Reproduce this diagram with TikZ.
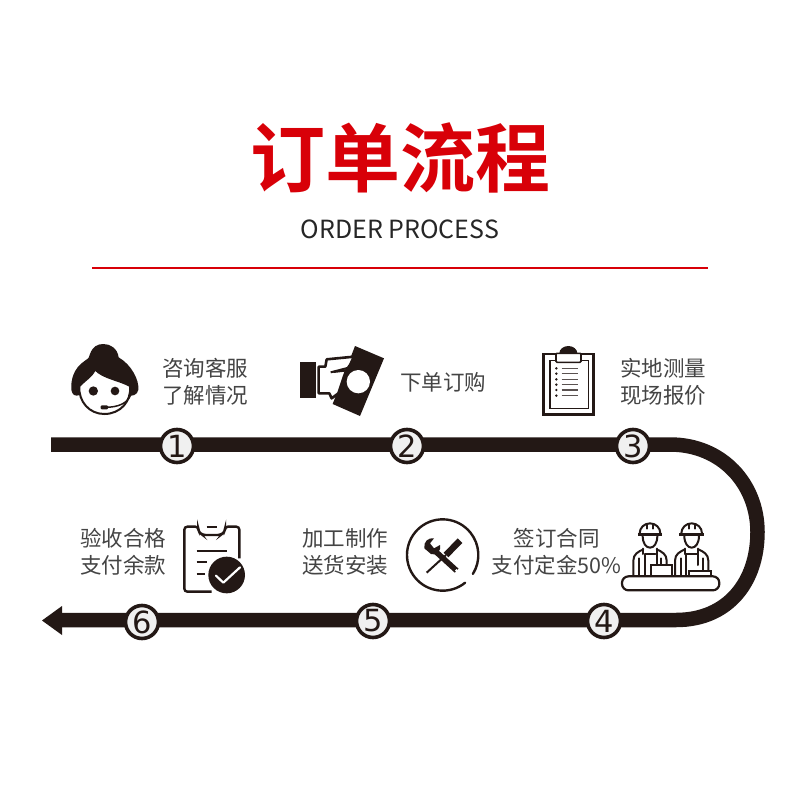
\documentclass[tikz,border=0pt]{standalone}
\usepackage{fontspec}
\newfontfamily\cjk{Noto Sans CJK SC}[BoldFont={Noto Sans CJK SC Bold}]
\newfontfamily\numfont{DejaVu Sans}
\definecolor{ink}{HTML}{231815}
\definecolor{txt}{HTML}{444444}
\definecolor{titlered}{HTML}{D80008}
\tikzset{
  track/.style={draw=ink,line width=14.5pt},
  stepnum/.style={circle,draw=ink,line width=3.6pt,fill=black!6,minimum size=33pt,inner sep=0pt,text=ink,font=\numfont\fontsize{30.5}{30.5}\selectfont},
  caption/.style={font=\cjk\fontsize{21.5}{27}\selectfont,text=txt,align=left,inner sep=0pt},
  icon/.style={draw=ink,line width=2pt,line join=round,line cap=round},
  iconfill/.style={fill=ink,draw=none}
}
\newcommand{\workerfig}{%
  % helmet
  \fill[ink] (-37,107) -- (37,107) -- (37,100) -- (-37,100) -- cycle;
  \draw[icon] (-31,100) arc (180:360:31 and 30);
  \draw[icon] (-9,72) -- (-9,86);
  \draw[icon] (9,72) -- (9,86);
  % head
  \draw[icon] (-22,107) .. controls (-22,130) and (-12,143) .. (0,143) .. controls (12,143) and (22,130) .. (22,107);
  % body
  \draw[icon] (-50,226) -- (-50,182) .. controls (-50,162) and (-35,155) .. (-20,148);
  \draw[icon] (50,226) -- (50,182) .. controls (50,162) and (35,155) .. (20,148);
  \draw[icon] (-33,226) -- (-33,175);
  \draw[icon] (-16,226) -- (-16,162) -- (16,162);
  \draw[icon] (-20,146) -- (-20,162);
  \draw[icon] (20,146) -- (20,162) -- (20,195);
  \draw[icon] (33,226) -- (33,175);
}
\begin{document}
\begin{tikzpicture}[x=1pt,y=-1pt]
\useasboundingbox[fill=white] (0,0) rectangle (800,800);

% heading
\node[font=\cjk\bfseries\fontsize{75}{76}\selectfont,text=titlered,inner sep=0pt] (title) at (400,158) {订单流程};
\node[font=\cjk\fontsize{25}{25}\selectfont,text=black!85,inner sep=0pt] (subtitle) at (400,229) {ORDER PROCESS};
\coordinate (ruleL) at (92,268);
\coordinate (ruleR) at (708,268);
\draw[draw=titlered,line width=2.8pt] (ruleL) -- (ruleR);

% track
\coordinate (trackstart) at (51,444.5);
\coordinate (bendtop) at (670,444.5);
\coordinate (bendright) at (757.5,532);
\coordinate (bendbot) at (676,620);
\coordinate (trackend) at (60,620);
\coordinate (tip) at (42,620.5);
\draw[track] (trackstart) -- (bendtop)
  .. controls (722,444.5) and (757.5,484) .. (bendright)
  .. controls (757.5,582) and (728,620) .. (bendbot) -- (trackend);
\fill[ink] (tip) -- (62,606) -- (62,635) -- cycle;

% steps
\node[stepnum] (s1) at (177,446) {1};
\node[stepnum] (s2) at (407,446) {2};
\node[stepnum] (s3) at (633,446) {3};
\node[stepnum] (s4) at (604,621) {4};
\node[stepnum] (s5) at (373,621) {5};
\node[stepnum] (s6) at (142,622) {6};

% captions
\node[caption,anchor=west] (c1) at (162,381.5) {咨询客服\\了解情况};
\node[caption,anchor=west] (c2) at (400,382) {下单订购};
\node[caption,anchor=west] (c3) at (620,381.5) {实地测量\\现场报价};
\node[caption,anchor=west] (c6) at (80,551.5) {验收合格\\支付余款};
\node[caption,anchor=west] (c5) at (302,551.5) {加工制作\\送货安装};
\node[caption,align=center,anchor=center] (c4) at (556.5,552) {签订合同\\支付定金50\%};

% icon 1: agent
\begin{scope}[shift={(40,330)},scale=1/3]
  \fill[ink] (94,180) .. controls (92,150) and (100,115) .. (135,92)
    .. controls (148,84) and (148,80) .. (150,72)
    .. controls (158,50) and (172,42) .. (190,42)
    .. controls (212,42) and (232,55) .. (236,82)
    .. controls (275,105) and (298,150) .. (295,180)
    .. controls (292,195) and (275,200) .. (268,195) -- (120,195)
    .. controls (105,200) and (97,195) .. (94,180) -- cycle;
  \filldraw[fill=white,draw=ink,line width=2pt] (118,168)
    .. controls (135,150) and (155,140) .. (165,118)
    .. controls (190,145) and (240,150) .. (270,168)
    .. controls (275,215) and (240,252) .. (193,252)
    .. controls (148,252) and (115,215) .. (118,168) -- cycle;
  \fill[ink] (160,183) circle (14);
  \fill[ink] (225,183) circle (13);
  \draw[ink,line width=1.5pt] (272,195) .. controls (262,220) and (235,232) .. (195,232);
  \fill[ink,rounded corners=1pt] (182,226) rectangle (204,238);
\end{scope}

% icon 2: hand and note
\begin{scope}[shift={(290,330)},scale=1/3]
  \fill[ink] (30,95) rectangle (78,205);
  \fill[ink] (195,48) -- (282,85) -- (210,258) -- (128,222) -- cycle;
  \filldraw[fill=white,draw=ink,line width=2.6pt,line join=round] (86,110) -- (106,110) -- (110,88) -- (192,80) -- (180,105)
    -- (168,122) -- (145,190) -- (125,205) -- (118,190) -- (86,190) -- cycle;
  \fill[white] (205,155) circle (35);
  \draw[ink,line width=2pt] (122,127) -- (195,108);
  \draw[ink,line width=2pt] (130,126) -- (165,122);
\end{scope}

% icon 3: clipboard
\begin{scope}[shift={(500,330)},scale=1/3]
  \draw[draw=ink,line width=2.6pt] (130,72) rectangle (281,253);
  \draw[draw=ink,line width=1.6pt] (150,92) rectangle (265,235);
  \fill[ink] (178,70) arc (180:360:27 and 22) -- cycle;
  \filldraw[fill=white,draw=ink,line width=1.6pt,rounded corners=1pt] (168,70) rectangle (243,97);
  \foreach \yy in {115,131,148,164,180,197}{
    \fill[ink] (169,\yy) circle (4);
    \draw[draw=ink!75,line width=1.5pt] (185,\yy) -- (235,\yy);
  }
\end{scope}

% icon 4: workers
\begin{scope}[shift={(480,500)},scale=1/3]
  \begin{scope}[shift={(510,0)}]\workerfig\end{scope}
  \begin{scope}[shift={(635,0)}]\workerfig\end{scope}
  \filldraw[fill=white,draw=ink,line width=2pt] (512,228) -- (512,196) -- (575,196) -- (575,228) -- cycle;
  \filldraw[fill=white,draw=ink,line width=2pt] (628,228) -- (628,212) -- (692,212) -- (692,228) -- cycle;
  \filldraw[fill=white,draw=ink,line width=2.2pt,rounded corners=6.5pt] (426,229) rectangle (718,271);
\end{scope}

% icon 5: tools in a ring
\begin{scope}[shift={(290,500)},scale=1/3]
  \draw[draw=ink,line width=2.4pt,line cap=round] (458,165) ++(51:107) arc (51:392:107);
  % screwdriver
  \draw[draw=ink,line width=6.5pt] (510,122) -- (468,165);
  \draw[draw=ink,line width=2pt] (468,165) -- (410,218);
  % wrench
  \draw[draw=ink,line width=5.5pt] (432,150) -- (500,212);
  \fill[white] (500,212) circle (5);
  \fill[ink] (403,145) .. controls (400,125) and (415,112) .. (432,115)
    -- (420,130) -- (432,145) -- (450,135)
    .. controls (455,150) and (440,170) .. (423,162) -- cycle;
\end{scope}

% icon 6: checklist
\begin{scope}[shift={(30,510)},scale=1/3]
  \draw[draw=ink,line width=2.4pt,rounded corners=3pt] (545,245) -- (463,245) -- (463,50) -- (505,50)
    -- (505,65) -- (518,75) -- (572,75) -- (585,65) -- (585,50) -- (628,50) -- (628,145);
  \draw[draw=ink,line width=2pt] (530,50) -- (560,50);
  \draw[draw=ink,line width=2pt] (500,122) -- (590,122);
  \draw[draw=ink,line width=2pt] (500,155) -- (532,155);
  \draw[draw=ink,line width=2pt] (500,192) -- (524,192);
  \fill[ink] (590,195) circle (55);
  \draw[draw=white,line width=2.2pt,line cap=round,line join=round] (558,197) -- (580,218) -- (630,172);
\end{scope}
\end{tikzpicture}
\end{document}
